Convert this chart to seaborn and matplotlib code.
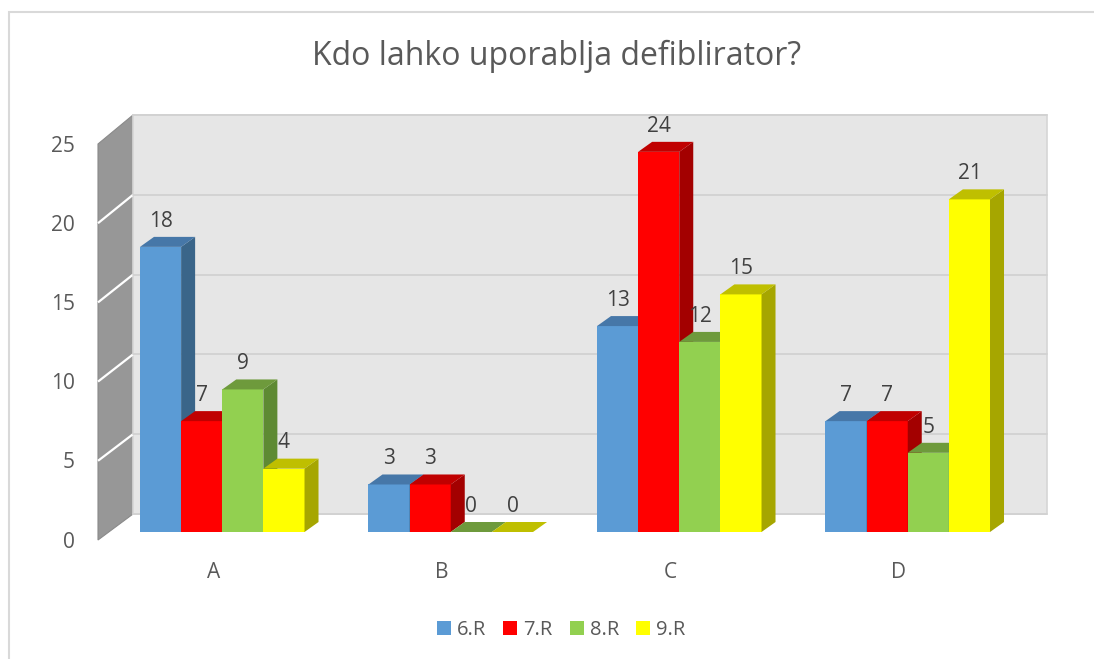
import numpy as np
import pandas as pd
import matplotlib
matplotlib.use("Agg")
import matplotlib.pyplot as plt
import seaborn as sns
from matplotlib.patches import Polygon, Rectangle
from matplotlib.colors import to_rgb
from matplotlib.transforms import ScaledTranslation

# ---------------- data ----------------
categories = ["A", "B", "C", "D"]
series = ["6.R", "7.R", "8.R", "9.R"]
v6 = [18, 3, 13, 7]
v7 = [7, 3, 24, 7]
v8 = [9, 0, 12, 5]
v9 = [4, 0, 15, 21]
yticks = [0, 5, 10, 15, 20, 25]
title = "Kdo lahko uporablja defiblirator?"

colors = ["#5B9BD5", "#FF0000", "#92D050", "#FFFF00"]
top_colors = ["#4677A8", "#C00000", "#6E9A3C", "#BFBF00"]
side_colors = ["#3A6589", "#A30000", "#5E8A33", "#A6A600"]

df = pd.DataFrame({
    "cat": categories * 4,
    "series": np.repeat(series, 4),
    "value": v6 + v7 + v8 + v9,
})

sns.set_style("white")
plt.rcParams["font.family"] = ["Open Sans", "DejaVu Sans"]
TXT = "#595959"

W, H = 1094, 659
fig = plt.figure(figsize=(W / 100, H / 100), dpi=100)
ax = fig.add_axes([108 / W, (H - 532) / H, (1022 - 108) / W, (532 - 136) / H])

sns.barplot(data=df, x="cat", y="value", hue="series", hue_order=series,
            palette=colors, width=0.72, gap=0, saturation=1, errorbar=None,
            linewidth=0, ax=ax, legend=True)

ax.set_xlim(-0.5, 3.5)
ax.set_ylim(0, 25)
ax.set_xlabel("")
ax.set_ylabel("")
ax.set_xticks([])
ax.set_yticks([])
for s in ax.spines.values():
    s.set_visible(False)
ax.patch.set_visible(False)

bars = [p for p in ax.patches if p.get_width() > 0.01]


def shifted(x, y, dx, dy):
    d = ax.transData.transform((x, y))
    return ax.transData.inverted().transform((d[0] + dx, d[1] + dy))


# walls
FX, FY = -10, -8   # front edge of the side wall
BX, BY = 25, 18    # back wall plane
left_wall = [shifted(-0.5, 0, FX, FY), shifted(-0.5, 25, FX, FY),
             shifted(-0.5, 25, BX, BY + 3), shifted(-0.5, 0, BX, BY)]
ax.add_patch(Polygon(left_wall, closed=True, facecolor="#979797",
                     edgecolor="#8a8a8a", lw=0.8, zorder=0.3, clip_on=False))
for t in yticks[1:-1]:
    a = shifted(-0.5, t, FX, FY)
    b = shifted(-0.5, t, BX, BY + 3 * t / 25)
    ax.plot([a[0], b[0]], [a[1], b[1]], color="white", lw=1.6, zorder=0.4,
            clip_on=False, solid_capstyle="butt")

back_wall = [shifted(-0.5, 0, BX, BY), shifted(3.5, 0, BX, BY),
             shifted(3.5, 25, BX, BY + 3), shifted(-0.5, 25, BX, BY + 3)]
ax.add_patch(Polygon(back_wall, closed=True, facecolor="#E6E6E6",
                     edgecolor="#D6D6D6", lw=1.2, zorder=0.3, clip_on=False))
for t in yticks:
    a = shifted(-0.5, t, BX, BY + 3 * t / 25)
    b = shifted(3.5, t, BX, BY + 3 * t / 25)
    ax.plot([a[0], b[0]], [a[1], b[1]], color="#D2D2D2", lw=1.3, zorder=0.4,
            clip_on=False)

# 3D faces of bars
DX, DY = 14, 10
ordered = sorted(bars, key=lambda p: p.get_x())
for k, p in enumerate(ordered):
    fc = to_rgb(p.get_facecolor()[:3])
    j = int(np.argmin([np.sum((np.array(to_rgb(c)) - np.array(fc)) ** 2) for c in colors]))
    x0 = p.get_x()
    x1 = x0 + p.get_width()
    h = p.get_height()
    z = 2 + k * 0.01
    p.set_zorder(z)
    p.set_clip_on(False)
    top = [(x0, h), (x1, h), shifted(x1, h, DX, DY), shifted(x0, h, DX, DY)]
    side = [(x1, 0), (x1, h), shifted(x1, h, DX, DY), shifted(x1, 0, DX, DY)]
    ax.add_patch(Polygon(side, closed=True, facecolor=side_colors[j],
                         edgecolor="none", zorder=z, clip_on=False))
    ax.add_patch(Polygon(top, closed=True, facecolor=top_colors[j],
                         edgecolor="none", zorder=z, clip_on=False))
    ax.annotate(f"{h:.0f}", xy=((x0 + x1) / 2, h), xytext=(0, 18.5),
                textcoords="offset points", ha="center", va="center",
                fontsize=15, color="#404040", zorder=10, annotation_clip=False)

# tick labels
ytrans = ax.transData + ScaledTranslation(-33 / 100, -10 / 100, fig.dpi_scale_trans)
for t in yticks:
    ax.text(-0.5, t, str(t), transform=ytrans, ha="right", va="center",
            fontsize=15, color=TXT)
xtrans = ax.transData + ScaledTranslation(-9 / 100, -40 / 100, fig.dpi_scale_trans)
for i, c in enumerate(categories):
    ax.text(i, 0, c, transform=xtrans, ha="center", va="center",
            fontsize=15, color=TXT)

# title
fig.text(557 / W, 1 - 56 / H, title, ha="center", va="center",
         fontsize=23, color=TXT)

# legend
sns.move_legend(ax, "center", bbox_to_anchor=(561 / W, 1 - 630 / H),
                bbox_transform=fig.transFigure, ncol=4, frameon=False,
                title=None, fontsize=14.5, handlelength=0.7, handleheight=0.7,
                columnspacing=0.85, handletextpad=0.3)
for t in ax.get_legend().get_texts():
    t.set_color(TXT)

# chart border
fig.add_artist(Rectangle((8.5 / W, -0.05), 1.2, (H - 11.5) / H + 0.05,
                         transform=fig.transFigure, fill=False,
                         edgecolor="#D9D9D9", lw=1.5))

fig.savefig("out.png", dpi=100, facecolor="white")
